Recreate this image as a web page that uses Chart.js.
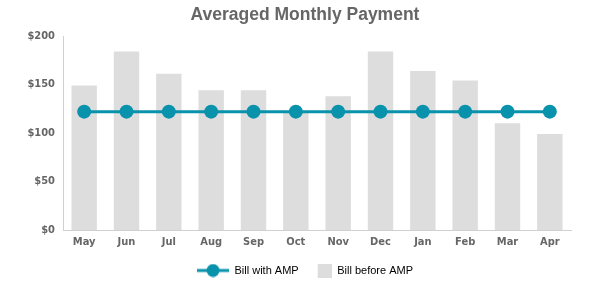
<!DOCTYPE html>
<html>
<head>
<meta charset="utf-8">
<title>Averaged Monthly Payment</title>
<script src="https://cdn.jsdelivr.net/npm/chart.js@4/dist/chart.umd.min.js"></script>
<style>
  html, body { margin: 0; padding: 0; background: #fff; }
  #wrap { width: 600px; height: 281px; position: relative; }
</style>
</head>
<body>
<div id="wrap"><canvas id="amp-chart"></canvas></div>
<script>
/* Averaged Monthly Payment - bills before vs. with AMP */
const months = ['May', 'Jun', 'Jul', 'Aug', 'Sep', 'Oct', 'Nov', 'Dec', 'Jan', 'Feb', 'Mar', 'Apr'];
const billBefore = [149, 184, 161, 144, 144, 121, 138, 184, 164, 154, 110, 99];
const billWithAmp = [122, 122, 122, 122, 122, 122, 122, 122, 122, 122, 122, 122];
const yTicks = [0, 50, 100, 150, 200];

const TEAL = '#0892ab';
const BAR_GRAY = '#dddddd';
const TEXT_GRAY = '#666666';
const CONDENSED = "'DejaVu Sans Condensed', 'Liberation Sans Narrow', 'Arial Narrow', sans-serif";

// legend icons: line with dot, and a plain square (right-aligned in same width)
function lineIcon() {
  const c = document.createElement('canvas');
  c.width = 32; c.height = 14;
  const g = c.getContext('2d');
  g.strokeStyle = TEAL; g.lineWidth = 3;
  g.beginPath(); g.moveTo(0, 7); g.lineTo(32, 7); g.stroke();
  g.fillStyle = TEAL;
  g.beginPath(); g.arc(16, 7, 6.5, 0, Math.PI * 2); g.fill();
  return c;
}
function boxIcon() {
  const c = document.createElement('canvas');
  c.width = 32; c.height = 14;
  const g = c.getContext('2d');
  g.fillStyle = BAR_GRAY;
  g.fillRect(18, 0, 14, 14);
  return c;
}

const icons = [lineIcon(), boxIcon()];

new Chart(document.getElementById('amp-chart'), {
  data: {
    labels: months,
    datasets: [
      {
        type: 'line', label: 'Bill with AMP', data: billWithAmp, order: 0,
        borderColor: TEAL, backgroundColor: TEAL, borderWidth: 3,
        pointRadius: 7, pointHoverRadius: 7, pointBackgroundColor: TEAL, pointBorderWidth: 0,
        tension: 0,
      },
      {
        type: 'bar', label: 'Bill before AMP', data: billBefore, order: 1,
        backgroundColor: BAR_GRAY, borderWidth: 0,
        categoryPercentage: 1, barPercentage: 0.6,
      },
    ],
  },
  options: {
    responsive: true,
    maintainAspectRatio: false,
    animation: false,
    layout: { padding: { left: 10, right: 0, top: 5, bottom: -5 } },
    plugins: {
      title: {
        display: true, text: 'Averaged Monthly Payment', color: '#666666',
        font: { family: "'Liberation Sans', Arial, sans-serif", size: 17.5, weight: 'bold' },
        padding: { top: 0, bottom: 10 },
      },
      legend: {
        position: 'bottom',
        labels: {
          usePointStyle: true, pointStyleWidth: 32, padding: 1,
          color: '#222', font: { family: "'Liberation Sans', Arial, sans-serif", size: 11 },
          generateLabels: (chart) => chart.data.datasets.map((ds, i) => ({
            text: ds.label, pointStyle: icons[i], datasetIndex: i,
            fillStyle: 'transparent', strokeStyle: 'transparent', lineWidth: 0, hidden: false,
          })),
        },
      },
      tooltip: { enabled: false },
    },
    scales: {
      x: {
        afterFit: (s) => { s.height = 34; },
        grid: { display: false, drawTicks: false },
        border: { display: true, color: '#d0d0d0', width: 1 },
        ticks: { color: TEXT_GRAY, padding: 6, font: { family: CONDENSED, size: 11, weight: 'bold' } },
      },
      y: {
        min: 0, max: 200,
        afterBuildTicks: (s) => { s.ticks = yTicks.map((v) => ({ value: v })); },
        afterFit: (s) => { s.width = 53; },
        grid: { display: false, drawTicks: false },
        border: { display: true, color: '#d0d0d0', width: 1 },
        ticks: {
          color: TEXT_GRAY, padding: 8, font: { family: CONDENSED, size: 11, weight: 'bold' },
          callback: (v) => '$' + v,
        },
      },
      // empty right-hand axis that only reserves the margin right of the plot
      yRight: {
        position: 'right', min: 0, max: 200,
        afterFit: (s) => { s.width = 29; },
        grid: { display: false, drawTicks: false },
        border: { display: false },
        ticks: { display: false },
      },
    },
  },
});
</script>
</body>
</html>
